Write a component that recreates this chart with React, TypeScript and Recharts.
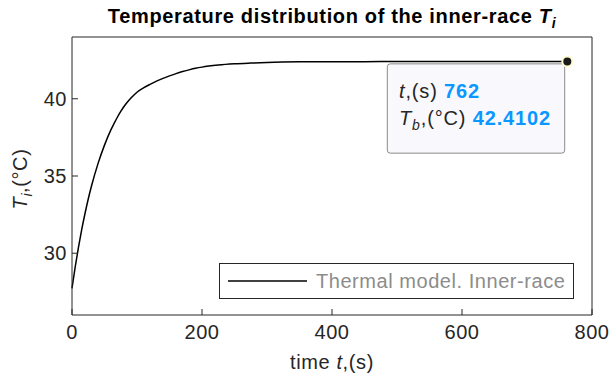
import React from 'react';
import { LineChart, Line, XAxis, YAxis, ReferenceDot, Legend } from 'recharts';

const timeS = [0, 5, 10, 15, 20, 25, 30, 40, 50, 60, 65, 70, 75, 80, 85, 90, 95, 100, 110, 120, 130, 140, 150, 160, 170, 180, 190, 200, 225, 250, 275, 300, 350, 400, 450, 500, 600, 700, 762];
const tempC = [27.73, 29.13, 30.39, 31.54, 32.57, 33.51, 34.35, 35.8, 37.0, 38.0, 38.42, 38.82, 39.18, 39.5, 39.78, 40.02, 40.23, 40.42, 40.7, 40.93, 41.14, 41.32, 41.48, 41.63, 41.76, 41.87, 41.97, 42.05, 42.18, 42.26, 42.31, 42.35, 42.39, 42.4, 42.405, 42.408, 42.41, 42.41, 42.4102];
const xTicks = [0, 200, 400, 600, 800];
const yTicks = [30, 35, 40];
const xDomain: [number, number] = [0, 800];
const yDomain: [number, number] = [26, 44];
const tipTime = 762;
const tipTemp = 42.4102;
const seriesName = 'Thermal model. Inner-race';

const data = timeS.map((t, i) => ({ t, temp: tempC[i] }));

const FONT = '"Liberation Sans", Arial, Helvetica, sans-serif';
const AXIS = '#262626';
const BLUE = '#0a97ff';
const FS = 20;

const TitleLabel = (props: any) => {
  const vb = props.viewBox || { x: 0, y: 0, width: 0, height: 0 };
  const cx = vb.x + vb.width / 2;
  const base = vb.y + (vb.height || 0) - 14.4;
  return (
    <text x={cx} y={base} textAnchor="middle" fontFamily={FONT} fontSize={FS} fontWeight="bold" fill="#000" letterSpacing={0.65}>
      Temperature distribution of the inner-race <tspan fontStyle="italic">T</tspan>
      <tspan fontStyle="italic" fontSize={14} dy={5}>i</tspan>
    </text>
  );
};

const XLabel = (props: any) => {
  const vb = props.viewBox || { x: 0, y: 0, width: 0 };
  const cx = vb.x + vb.width / 2;
  return (
    <text x={cx} y={vb.y + 54} textAnchor="middle" fontFamily={FONT} fontSize={FS} fill={AXIS} letterSpacing={0.6}>
      time <tspan fontStyle="italic">t</tspan>,(s)
    </text>
  );
};

const YLabel = (props: any) => {
  const vb = props.viewBox || { x: 0, y: 0, height: 0 };
  const x = vb.x + 15;
  const y = vb.y + vb.height / 2 + 3;
  return (
    <text x={x} y={y} transform={`rotate(-90, ${x}, ${y})`} textAnchor="middle" fontFamily={FONT} fontSize={FS} fill={AXIS} letterSpacing={0.6}>
      <tspan fontStyle="italic">T</tspan>
      <tspan fontStyle="italic" fontSize={14} dy={5}>i</tspan>
      <tspan dy={-5}>,(°C)</tspan>
    </text>
  );
};

const DataTip = (props: any) => {
  const { cx, cy } = props;
  if (cx == null || cy == null) return null;
  const bx = cx - 180;
  const by = cy + 2.3;
  return (
    <g>
      <rect x={bx} y={by} width={177.4} height={89.3} rx={3} ry={3} fill="#f9f9fd" stroke="#8a8a8a" strokeWidth={1} />
      <text x={bx + 11.7} y={by + 34.3} fontFamily={FONT} fontSize={FS} fill={AXIS} letterSpacing={0.85}>
        <tspan fontStyle="italic">t</tspan>
        <tspan>,(s) </tspan>
        <tspan fontWeight="bold" fill={BLUE}>{tipTime}</tspan>
      </text>
      <text x={bx + 11.7} y={by + 61} fontFamily={FONT} fontSize={FS} fill={AXIS} letterSpacing={0.85}>
        <tspan fontStyle="italic">T</tspan>
        <tspan fontStyle="italic" fontSize={14} dy={5}>b</tspan>
        <tspan dy={-5}>,(°C) </tspan>
        <tspan fontWeight="bold" fill={BLUE}>{tipTemp.toFixed(4)}</tspan>
      </text>
      <circle cx={cx} cy={cy} r={5} fill="#1a1a1a" stroke="#fffbd0" strokeWidth={2} />
    </g>
  );
};

const LegendBox = () => (
  <div
    style={{
      width: 355,
      height: 36,
      border: `1px solid ${AXIS}`,
      background: '#fff',
      boxSizing: 'border-box',
      display: 'flex',
      alignItems: 'center',
      fontFamily: FONT,
      fontSize: FS,
      color: '#8c8c8c',
      letterSpacing: 0.55,
    }}
  >
    <svg width={79} height={4} style={{ marginLeft: 8, flex: 'none' }}>
      <line x1={0} y1={2} x2={79} y2={2} stroke="#000" strokeWidth={1.5} />
    </svg>
    <span style={{ marginLeft: 9, whiteSpace: 'nowrap' }}>{seriesName}</span>
  </div>
);

export default function App() {
  const tickStyle = { fill: AXIS, fontSize: FS, fontFamily: FONT, letterSpacing: 0.5 };
  return (
    <div style={{ position: 'absolute', left: 0, top: 0, width: 611, height: 377, background: '#fff' }}>
      <LineChart width={611} height={377} data={data} margin={{ top: 36, right: 18, bottom: 32, left: 12 }}>
        <XAxis
          xAxisId="bottom"
          dataKey="t"
          type="number"
          domain={xDomain}
          ticks={xTicks}
          interval={0}
          height={30}
          tickSize={-6}
          tickMargin={16}
          tick={tickStyle}
          axisLine={{ stroke: AXIS }}
          tickLine={{ stroke: AXIS }}
          label={<XLabel />}
        />
        <XAxis
          xAxisId="top"
          orientation="top"
          dataKey="t"
          type="number"
          domain={xDomain}
          ticks={xTicks}
          interval={0}
          height={1}
          tickSize={-6}
          tick={false}
          axisLine={{ stroke: AXIS }}
          tickLine={{ stroke: AXIS }}
          label={<TitleLabel />}
        />
        <YAxis
          yAxisId="left"
          type="number"
          domain={yDomain}
          ticks={yTicks}
          interval={0}
          width={60}
          tickSize={-6}
          tickMargin={11}
          tick={tickStyle}
          axisLine={{ stroke: AXIS }}
          tickLine={{ stroke: AXIS }}
          label={<YLabel />}
        />
        <YAxis
          yAxisId="right"
          orientation="right"
          type="number"
          domain={yDomain}
          ticks={yTicks}
          interval={0}
          width={1}
          tickSize={-6}
          tick={false}
          axisLine={{ stroke: AXIS }}
          tickLine={{ stroke: AXIS }}
        />
        <Legend
          layout="horizontal"
          verticalAlign="middle"
          align="center"
          content={<LegendBox />}
          wrapperStyle={{ left: 219, top: 263, width: 355, height: 36 }}
        />
        <Line
          xAxisId="bottom"
          yAxisId="left"
          type="monotone"
          dataKey="temp"
          name={seriesName}
          stroke="#000"
          strokeWidth={1.5}
          dot={false}
          activeDot={false}
          isAnimationActive={false}
        />
        <ReferenceDot
          xAxisId="bottom"
          yAxisId="left"
          x={tipTime}
          y={tipTemp}
          r={5}
          shape={<DataTip />}
          ifOverflow="visible"
        />
      </LineChart>
    </div>
  );
}
